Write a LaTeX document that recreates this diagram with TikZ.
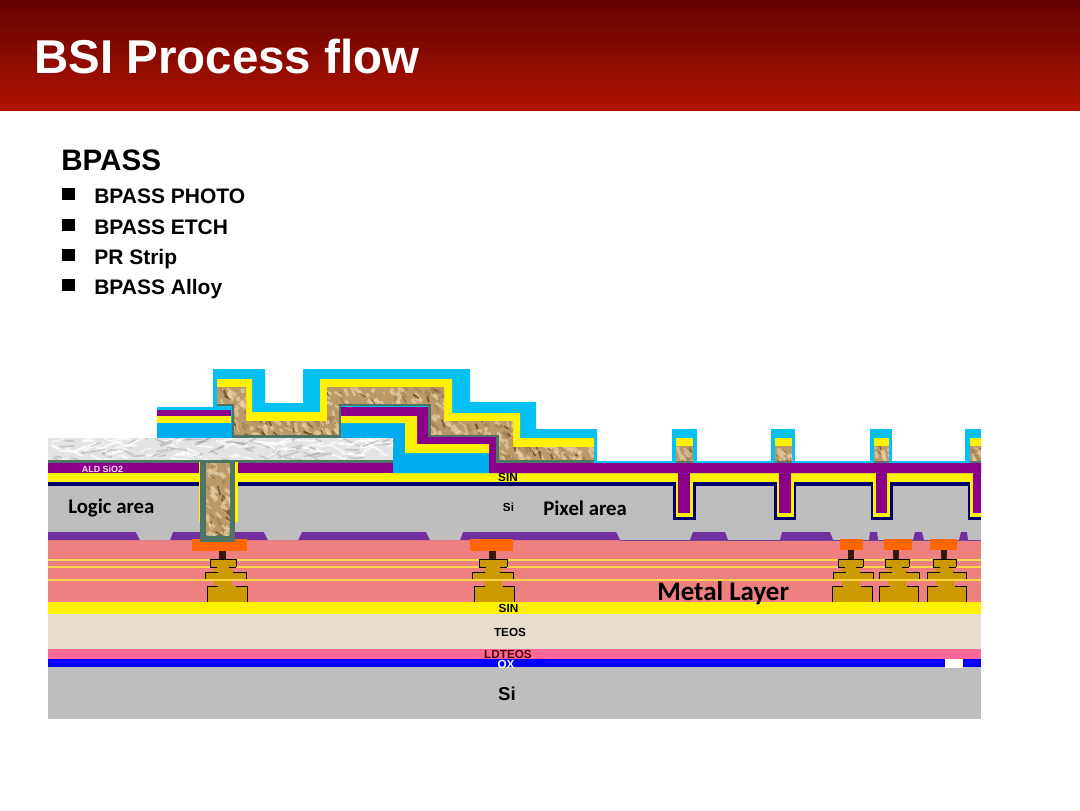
\documentclass[tikz,border=0pt]{standalone}
\usepackage{fontspec}
\setmainfont{Liberation Sans}
\newfontfamily\carl{Carlito}
\definecolor{headtop}{HTML}{640000}
\definecolor{headbot}{HTML}{B01400}
\definecolor{cyanl}{HTML}{05C0F2}
\definecolor{cyanb}{HTML}{00AEEF}
\definecolor{purp}{HTML}{8A008A}
\definecolor{purl}{HTML}{7030A0}
\definecolor{greyl}{HTML}{BEBEBE}
\definecolor{pinkm}{HTML}{EF8080}
\definecolor{pinkh}{HTML}{FF6699}
\definecolor{beige}{HTML}{E6DDCF}
\definecolor{gold}{HTML}{CC9900}
\definecolor{orng}{HTML}{FF6600}
\definecolor{greenb}{HTML}{4E7564}
\definecolor{navyb}{HTML}{00006E}
\definecolor{lineyel}{HTML}{FFD84A}
\definecolor{plugc}{HTML}{3A1A10}
\definecolor{tanb}{HTML}{BC9968}
\definecolor{tanl}{HTML}{E6CFA8}
\definecolor{tand}{HTML}{5E3F20}
\definecolor{marb}{HTML}{E4E4E4}
\tikzset{
  lbl/.style={inner sep=0pt,font=\bfseries\fontsize{8.8pt}{9pt}\selectfont,text=black},
  area/.style={inner sep=0pt,anchor=base west,font=\carl\bfseries\fontsize{15.6pt}{16pt}\selectfont,text=black},
  bul/.style={inner sep=0pt,anchor=base west,font=\bfseries\fontsize{15.75pt}{17pt}\selectfont,text=black},
  sq/.style={inner sep=0pt,minimum size=9.5pt,fill=black,shape=rectangle},
  metaledge/.style={draw=black,line width=0.6pt,line cap=butt},
  ylines/.style={draw=lineyel,line width=1.4pt}
}
% #1 clip path, #2..#5 bbox
\newcommand\browntex[5]{%
  \begin{scope}
    \clip #1;
    \fill[tanb] (#2,#3) rectangle (#4,#5);
    \pgfmathtruncatemacro\nnum{max(14,(#4-#2)/30*(#5-#3))}
    \foreach \i in {1,...,\nnum}{%
      \pgfmathsetmacro\px{#2+rnd*(#4-#2)}
      \pgfmathsetmacro\py{#3+rnd*(#5-#3)}
      \pgfmathsetmacro\ang{20+rnd*60}
      \pgfmathsetmacro\len{3+rnd*7}
      \pgfmathsetmacro\wid{0.8+rnd*2.4}
      \pgfmathtruncatemacro\pick{int(rnd*5)}
      \ifnum\pick=0\relax
        \draw[tand,opacity=.7,line width=.55*\wid pt] (\px,\py) -- ++(\ang:\len);
      \else
        \ifnum\pick=1\relax
          \draw[tanb!70!tand,opacity=.7,line width=\wid pt] (\px,\py) -- ++(\ang:\len);
        \else
          \draw[tanl,opacity=.7,line width=\wid pt] (\px,\py) -- ++(\ang:\len);
        \fi
      \fi
    }
  \end{scope}}
\newcommand\marbletex[4]{%
  \begin{scope}
    \clip (#1,#2) rectangle (#3,#4);
    \fill[marb] (#1,#2) rectangle (#3,#4);
    \foreach \i in {1,...,170}{%
      \pgfmathsetmacro\px{#1+rnd*(#3-#1)}
      \pgfmathsetmacro\py{#2+rnd*(#4-#2)}
      \pgfmathsetmacro\ang{-30+rnd*60}
      \pgfmathsetmacro\len{5+rnd*18}
      \pgfmathtruncatemacro\pick{int(rnd*3)}
      \ifnum\pick=0\relax
        \draw[gray,opacity=.3,line width=1.2pt] (\px,\py) -- ++(\ang:\len);
      \else
        \draw[white,opacity=.7,line width=1.4pt] (\px,\py) -- ++(\ang:\len);
      \fi
    }
  \end{scope}}
% plug L,R ; M1 L,R ; M2 L,R ; M3 L,R
\newcommand\metalstack[8]{%
  \fill[plugc] (#1,550) rectangle (#2,559);
  \fill[gold] (#3,559) rectangle (#4,567);
  \pgfmathsetmacro\mc{(#3+#4)/2}
  \fill[gold] (\mc-6,567) -- (\mc+6,567) -- (\mc+11,572) -- (\mc-11,572) -- cycle;
  \fill[gold] (#5,572) rectangle (#6,580);
  \fill[gold] (\mc-9,580) rectangle (\mc+9,586);
  \fill[gold] (#7,586) rectangle (#8,602);
  \draw[metaledge] (#3,567) -- (#3,559) -- (#4,559) -- (#4,567);
  \draw[metaledge] (#3,567) -- ++(7,0) (#4,567) -- ++(-7,0);
  \draw[metaledge] (#5,580) -- (#5,572) -- ++(13,0);
  \draw[metaledge] (#6,580) -- (#6,572) -- ++(-13,0);
  \draw[metaledge] (#7,602) -- (#7,586) -- ++(11,0);
  \draw[metaledge] (#8,602) -- (#8,586) -- ++(-11,0);
}
\begin{document}
\begin{tikzpicture}[x=0.75pt,y=-0.75pt]
\pgfmathsetseed{4711}
\useasboundingbox (0,0) rectangle (1080,810);
\fill[white] (0,0) rectangle (1080,810);
% header
\shade[top color=headtop,bottom color=headbot] (0,0) rectangle (1080,110.5);
\node[inner sep=0pt,anchor=base west,text=white,font=\bfseries\fontsize{35.6pt}{38pt}\selectfont] (title) at (34,73) {BSI Process flow};
% text list
\node[inner sep=0pt,anchor=base west,font=\bfseries\fontsize{22.2pt}{24pt}\selectfont] (head) at (61,170) {BPASS};
\node[sq] (s1) at (68.5,194) {};
\node[sq] (s2) at (68.5,225) {};
\node[sq] (s3) at (68.5,255) {};
\node[sq] (s4) at (68.5,285) {};
\node[bul] (b1) at (94,203.5) {BPASS PHOTO};
\node[bul] (b2) at (94,234.5) {BPASS ETCH};
\node[bul] (b3) at (94,264.5) {PR Strip};
\node[bul] (b4) at (94,294.5) {BPASS Alloy};
% bottom layers
\fill[greyl] (48,485) rectangle (981,540);
\fill[pinkm] (48,540) rectangle (981,602);
\fill[yellow] (48,602) rectangle (981,614);
\fill[beige] (48,614) rectangle (981,649);
\fill[pinkh] (48,649) rectangle (981,659);
\fill[blue] (48,659) rectangle (981,666.5);
\fill[greyl] (48,666.5) rectangle (981,719);
\fill[white] (945,659) rectangle (963,668);
% STI layer
\fill[purl] (48,532) -- (616,532) -- (620,540) -- (48,540) -- cycle;
\fill[greyl] (136,532) -- (173,532) -- (170,540) -- (140,540) -- cycle;
\fill[greyl] (264,532) -- (302,532) -- (298,540) -- (268,540) -- cycle;
\fill[greyl] (426,532) -- (463,532) -- (460,540) -- (430,540) -- cycle;
\fill[purl] (693,532) -- (725,532) -- (728,540) -- (690,540) -- cycle;
\fill[purl] (782,532) -- (830,532) -- (833,540) -- (780,540) -- cycle;
\fill[purl] (870,532) -- (877,532) -- (878,540) -- (869,540) -- cycle;
\fill[purl] (915,532) -- (922,532) -- (924,540) -- (913,540) -- cycle;
\fill[purl] (961,532) -- (967,532) -- (968,540) -- (959,540) -- cycle;
\draw[purl!70!gray,line width=0.4pt] (620,540) -- (981,540);
% metal lines under stacks
\draw[ylines] (48,560) -- (981,560);
\draw[ylines] (48,567) -- (981,567);
\metalstack{219}{226}{210}{236}{205}{246}{207}{247}
\metalstack{489}{496}{479}{507}{472}{513}{474}{514}
\metalstack{848}{854}{838}{863}{833}{873}{832}{872}
\metalstack{893}{899}{885}{909}{879}{919}{879}{918}
\metalstack{941}{947}{933}{956}{927}{966}{927}{966}
\draw[ylines] (48,580) -- (981,580);
% pads
\fill[orng] (192,539) rectangle (247,551);
\fill[orng] (470,539) rectangle (513,551);
\fill[orng] (840,539) rectangle (863,550);
\fill[orng] (884,539) rectangle (912,550);
\fill[orng] (930,539) rectangle (957,550);
% liner stack across wafer
\fill[navyb] (48,482) rectangle (981,486);
\fill[yellow] (48,473) rectangle (981,482);
% trenches
\fill[navyb] (673,482) rectangle (696,520);
\fill[yellow] (676,482) rectangle (693,517);
\fill[purp] (678,473) rectangle (690,513);
\fill[navyb] (774,482) rectangle (796,520);
\fill[yellow] (777,482) rectangle (794,517);
\fill[purp] (779,473) rectangle (791,513);
\fill[navyb] (871,482) rectangle (893,520);
\fill[yellow] (873,482) rectangle (890,517);
\fill[purp] (876,473) rectangle (887,513);
\fill[navyb] (968,482) rectangle (981,520);
\fill[yellow] (970,482) rectangle (981,517);
\fill[purp] (973,473) rectangle (981,513);
% top film: cyan
\fill[cyanl] (157,407) -- (213,407) -- (213,369) -- (265,369) -- (265,403) -- (303,403) -- (303,369) -- (470,369) -- (470,402) -- (536,402) -- (536,429) -- (597,429) -- (597,461) -- (981,461) -- (981,473) -- (393,473) -- (393,438) -- (157,438) -- cycle;
\fill[cyanb] (157,423) rectangle (232,438);
\fill[cyanb] (341,423) -- (405,423) -- (405,453) -- (489,453) -- (489,473) -- (393,473) -- (393,438) -- (341,438) -- cycle;
% pillars
\fill[cyanl] (672,429) rectangle (697,463);
\fill[cyanl] (771,429) rectangle (795,463);
\fill[cyanl] (870,429) rectangle (892,463);
\fill[cyanl] (965,429) rectangle (981,463);
\fill[yellow] (676,438) rectangle (693,447);
\fill[yellow] (775,438) rectangle (792,447);
\fill[yellow] (874,438) rectangle (889,447);
\fill[yellow] (970,438) rectangle (981,447);
\browntex{(676,446) rectangle (693,463)}{676}{446}{693}{463}
\browntex{(775,446) rectangle (792,463)}{775}{446}{792}{463}
\browntex{(874,446) rectangle (889,463)}{874}{446}{889}{463}
\browntex{(970,446) rectangle (981,463)}{970}{446}{981}{463}
\fill[greenb!80!gray] (676,460.5) rectangle (693,463);
\fill[greenb!80!gray] (775,460.5) rectangle (792,463);
\fill[greenb!80!gray] (874,460.5) rectangle (889,463);
\fill[greenb!80!gray] (970,460.5) rectangle (981,463);
% upper purple / yellow layers (left)
\fill[purp] (157,410) rectangle (231,416);
\fill[yellow] (157,416) rectangle (231,423);
% upper yellow
\fill[yellow] (217,379) -- (252,379) -- (252,412) -- (320,412) -- (320,379) -- (452,379) -- (452,413) -- (520,413) -- (520,438) -- (594,438) -- (594,447) -- (513,447) -- (513,421) -- (444,421) -- (444,387) -- (327,387) -- (327,421) -- (246,421) -- (246,387) -- (217,387) -- cycle;
% upper brown
\browntex{(217,387) -- (246,387) -- (246,421) -- (327,421) -- (327,387) -- (444,387) -- (444,421) -- (513,421) -- (513,447) -- (594,447) -- (594,462) -- (499,462) -- (499,436) -- (431,436) -- (431,404) -- (341,404) -- (341,438) -- (232,438) -- (232,404) -- (217,404) -- cycle}{217}{387}{594}{462}
% purple step
\fill[purp] (341,407) -- (428,407) -- (428,437) -- (496,437) -- (496,463) -- (981,463) -- (981,473) -- (489,473) -- (489,444) -- (417,444) -- (417,416) -- (341,416) -- cycle;
\fill[yellow] (341,416) -- (417,416) -- (417,444) -- (489,444) -- (489,453) -- (405,453) -- (405,423) -- (341,423) -- cycle;
% marble and ALD
\marbletex{48}{438}{393}{460}
\fill[greenb] (48,460) rectangle (393,462.5);
\fill[purp] (48,462.5) rectangle (393,473);
% via
\fill[yellow] (199,462) rectangle (238,522);
\fill[greenb] (200,462) rectangle (235,541.5);
\browntex{(206,463) rectangle (230,535)}{206}{463}{230}{535}
% grey-green outline
\draw[greenb,line width=2.2pt,line join=miter] (217,405) -- (233,405) -- (233,436.5) -- (340,436.5) -- (340,405) -- (429.5,405) -- (429.5,436) -- (497.5,436) -- (497.5,461.5) -- (594,461.5);
% labels
\node[lbl,text=white!85!magenta,font=\bfseries\fontsize{6.7pt}{7pt}\selectfont] (ald) at (102.5,469) {ALD SiO2};
\node[lbl] (sin1) at (508,477.5) {SIN};
\node[lbl] (si1) at (508.5,507) {Si};
\node[area] (logic) at (68,513) {Logic area};
\node[area] (pixel) at (543,515) {Pixel area};
\node[area,font=\carl\bfseries\fontsize{20.2pt}{21pt}\selectfont] (metal) at (657,600) {Metal Layer};
\node[lbl] (sin2) at (508.5,608) {SIN};
\node[lbl] (teos) at (510,632) {TEOS};
\node[lbl,text=black!70!red] (ldteos) at (508,654) {LDTEOS};
\node[lbl,text=white] (ox) at (506,664) {OX};
\node[lbl,font=\bfseries\fontsize{14pt}{15pt}\selectfont] (si2) at (507,694) {Si};
\end{tikzpicture}
\end{document}
